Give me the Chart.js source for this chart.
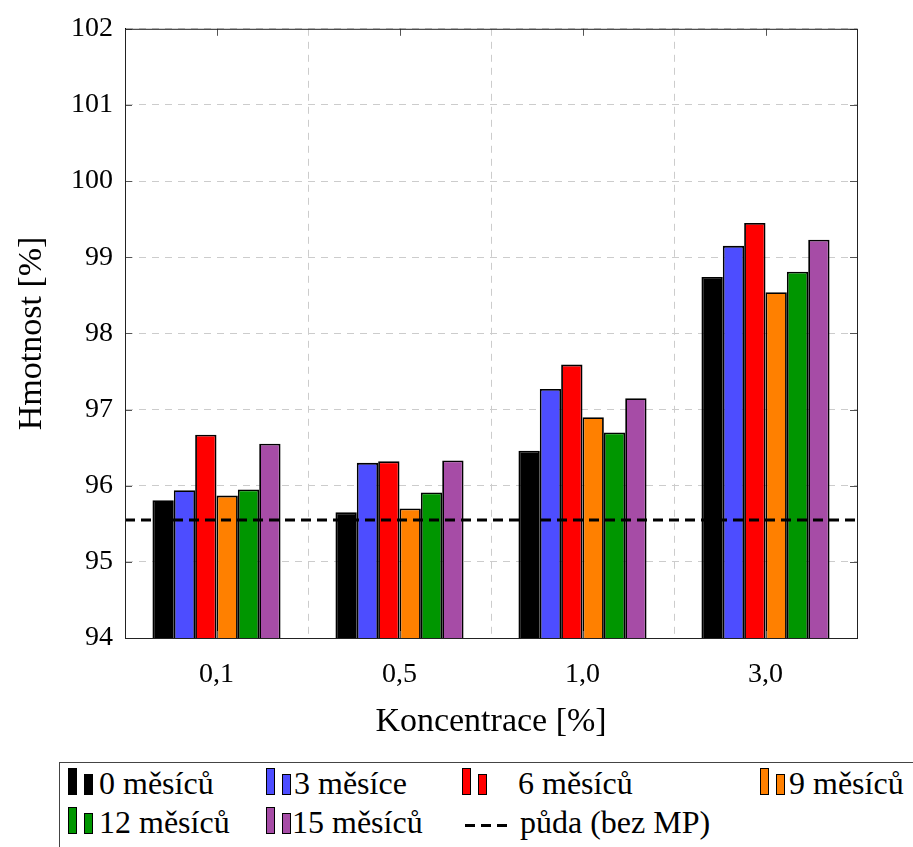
<!DOCTYPE html>
<html>
<head>
<meta charset="utf-8">
<script src="https://cdn.jsdelivr.net/npm/chart.js@4"></script>
<style>
  body { margin: 0; background: #fff; }
  #wrap { position: relative; width: 913px; height: 847px; overflow: hidden; }
  #legend { position: absolute; left: 59px; top: 762px; width: 900px; height: 100px;
            border: 1px solid #444; font-family: "Liberation Serif", "Times New Roman", Times, "DejaVu Serif", serif;
            font-size: 32px; }
  .ic { position: absolute; width: 9px; border: 1.5px solid #000; box-sizing: border-box; }
  .txt { position: absolute; white-space: nowrap; line-height: 1; color: #000; }
  .dash { position: absolute; height: 3px; width: 42px;
          background: repeating-linear-gradient(90deg, #000 0 10px, transparent 10px 16px); }
</style>
</head>
<body>
<div id="wrap">
  <canvas id="chart" width="913" height="760"></canvas>
  <div id="legend"></div>
</div>
<script>
// data
const categories = ['0,1', '0,5', '1,0', '3,0'];
const seriesNames = ['0 měsíců', '3 měsíce', '6 měsíců', '9 měsíců', '12 měsíců', '15 měsíců'];
const months0 = [95.81, 95.65, 96.46, 98.74];
const months3 = [95.94, 96.30, 97.27, 99.15];
const months6 = [96.67, 96.32, 97.59, 99.45];
const months9 = [95.87, 95.70, 96.90, 98.54];
const months12 = [95.95, 95.91, 96.70, 98.81];
const months15 = [96.55, 96.33, 97.15, 99.23];
const soilName = 'půda (bez MP)';
const soilValue = 95.55;
const yMin = 94, yMax = 102, yStep = 1;

const seriesValues = [months0, months3, months6, months9, months12, months15];
const colors = ['#000000', '#4d4dff', '#ff0000', '#ff8000', '#009600', '#a64ca6'];

const font = '"Liberation Serif", "Times New Roman", Times, "DejaVu Serif", serif';

// x is a linear axis with one unit per category, so the soil line can run edge to edge
const barSets = seriesValues.map((vals, i) => ({
    label: seriesNames[i],
    data: vals.map((v, k) => ({x: k, y: v})),
    backgroundColor: colors[i],
    borderColor: '#000',
    borderWidth: 1.8,
    categoryPercentage: 0.7,
    barPercentage: 1.0,
    order: 1
}));

const soilSet = {
    type: 'line',
    label: soilName,
    data: [{x: -0.5, y: soilValue}, {x: categories.length - 0.5, y: soilValue}],
    borderColor: '#000',
    borderWidth: 3,
    borderDash: [10, 6],
    pointRadius: 0,
    order: 0
};

// box around the plot plus the short inward tick marks pgfplots draws
const framePlugin = {
    id: 'frame',
    afterDraw(chart) {
        const a = chart.chartArea, ctx = chart.ctx;
        const ys = chart.scales.y, xs = chart.scales.x;
        ctx.save();
        ctx.strokeStyle = '#555';
        ctx.lineWidth = 1;
        ctx.beginPath();
        ys.ticks.forEach(t => {
            const p = Math.round(ys.getPixelForValue(t.value)) + 0.5;
            ctx.moveTo(a.left, p); ctx.lineTo(a.left + 7, p);
            ctx.moveTo(a.right, p); ctx.lineTo(a.right - 7, p);
        });
        xs.ticks.forEach(t => {
            const p = Math.round(xs.getPixelForValue(t.value)) + 0.5;
            ctx.moveTo(p, a.bottom); ctx.lineTo(p, a.bottom - 7);
            ctx.moveTo(p, a.top); ctx.lineTo(p, a.top + 7);
        });
        ctx.stroke();
        ctx.strokeStyle = '#222';
        ctx.strokeRect(a.left + 0.5, a.top + 0.5, a.right - a.left, a.bottom - a.top);
        ctx.restore();
    }
};

new Chart(document.getElementById('chart').getContext('2d'), {
    type: 'bar',
    data: { datasets: [...barSets, soilSet] },
    plugins: [framePlugin],
    options: {
        responsive: false,
        animation: false,
        layout: { padding: { top: 25, right: 56, left: 0, bottom: 0 } },
        plugins: { legend: { display: false }, tooltip: { enabled: false } },
        scales: {
            x: {
                type: 'linear',
                min: -0.5, max: categories.length - 0.5,
                offset: false,
                afterFit: s => { s.height = 122; },
                afterBuildTicks: s => { s.ticks = categories.map((c, k) => ({value: k})); },
                grid: { color: '#cccccc', drawTicks: false },
                border: { dash: [7, 6], color: '#000' },
                ticks: { color: '#000', padding: 20, font: { family: font, size: 28 },
                         callback: v => categories[v] },
                title: { display: true, text: 'Koncentrace [%]', color: '#000',
                         font: { family: font, size: 34 }, padding: { top: 0, bottom: 18 } }
            },
            y: {
                min: yMin, max: yMax,
                afterFit: s => { s.width = 125; },
                grid: { color: '#cccccc', drawTicks: false },
                border: { dash: [7, 6], color: '#000' },
                ticks: { stepSize: yStep, color: '#000', padding: 12, font: { family: font, size: 28 } },
                title: { display: true, text: 'Hmotnost [%]', color: '#000',
                         font: { family: font, size: 34 }, padding: { top: 12, bottom: 0 } }
            }
        }
    }
});

// legend box below the chart, laid out like the original (pgfplots ybar legend images)
const legend = document.getElementById('legend');
const slots = [
    {icon: 8, text: 39, row: 0}, {icon: 206, text: 234, row: 0},
    {icon: 402, text: 458, row: 0}, {icon: 700, text: 729, row: 0},
    {icon: 8, text: 39, row: 1}, {icon: 206, text: 232, row: 1}
];
const rowBase = [32, 70.5];   // bottom of the icons
const textTop = [4, 43];

function addBar(left, bottom, h, color) {
    const b = document.createElement('div');
    b.className = 'ic';
    b.style.left = left + 'px';
    b.style.top = (bottom - h) + 'px';
    b.style.height = h + 'px';
    b.style.background = color;
    legend.appendChild(b);
}
function addText(left, top, str) {
    const t = document.createElement('div');
    t.className = 'txt';
    t.textContent = str;
    t.style.left = left + 'px';
    t.style.top = top + 'px';
    legend.appendChild(t);
}

seriesNames.forEach((name, i) => {
    const s = slots[i];
    addBar(s.icon, rowBase[s.row], 27, colors[i]);
    addBar(s.icon + 16, rowBase[s.row], 21, colors[i]);
    addText(s.text, textTop[s.row], name);
});
const d = document.createElement('div');
d.className = 'dash';
d.style.left = '405px';
d.style.top = '61px';
legend.appendChild(d);
addText(460, textTop[1], soilName);
</script>
</body>
</html>
